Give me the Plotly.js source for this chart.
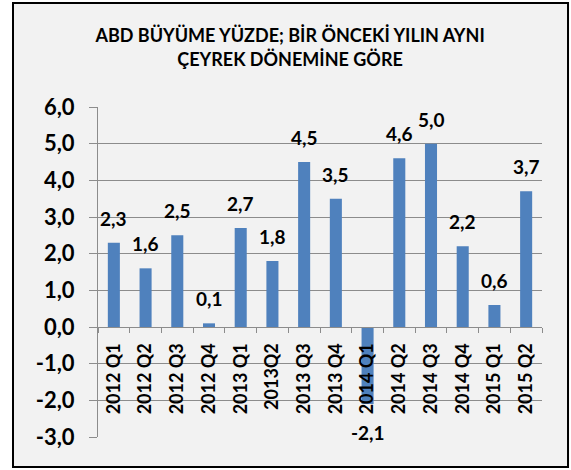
<!DOCTYPE html>
<html>
<head>
<meta charset="utf-8">
<script src="https://cdn.plot.ly/plotly-3.0.1.min.js"></script>
<style>html,body{margin:0;padding:0;background:#fff;}#chart{width:571px;height:470px;}</style>
</head>
<body>
<div id="chart"></div>
<script>
const categories = ["2012 Q1","2012 Q2","2012 Q3","2012 Q4","2013 Q1","2013Q2","2013 Q3","2013 Q4","2014 Q1","2014 Q2","2014 Q3","2014 Q4","2015 Q1","2015 Q2"];
const growth = [2.3, 1.6, 2.5, 0.1, 2.7, 1.8, 4.5, 3.5, -2.1, 4.6, 5.0, 2.2, 0.6, 3.7];
const titleLines = ["ABD BÜYÜME YÜZDE; BİR ÖNCEKİ YILIN AYNI", "ÇEYREK DÖNEMİNE GÖRE"];
const yTicks = [-3, -2, -1, 0, 1, 2, 3, 4, 5, 6];

const FONT = "Lato, 'Open Sans', sans-serif";
const GRID = "#8c8c8c";

const fmt = v => v.toFixed(1).replace(".", ",");

const labelAnnotations = categories.map((c, i) => ({
  x: c, y: growth[i], xref: "x", yref: "y",
  text: fmt(growth[i]), showarrow: false,
  yanchor: growth[i] >= 0 ? "bottom" : "top",
  yshift: growth[i] >= 0 ? 11 : -15,
  font: {family: FONT, size: 19, color: "#000", weight: "bold"}
}));

const trace = {
  type: "bar",
  x: categories,
  y: growth,
  marker: {color: "#4f81bd"},
  hoverinfo: "skip"
};

const layout = {
  width: 571, height: 470,
  margin: {l: 98, r: 29, t: 107, b: 33},
  paper_bgcolor: "#ffffff",
  plot_bgcolor: "rgba(0,0,0,0)",
  separators: ",.",
  bargap: 0.62,
  showlegend: false,
  title: {
    text: titleLines.join("<br>"),
    font: {family: FONT, size: 18, color: "#000", weight: "bold"},
    xref: "container", x: 0.508, xanchor: "center",
    yref: "container", y: 0.91, yanchor: "top"
  },
  xaxis: {
    type: "category",
    anchor: "free", position: 1/3,
    showline: true, linecolor: GRID, linewidth: 1,
    ticks: "outside", tickson: "boundaries", ticklen: 5, tickcolor: GRID,
    tickangle: -90,
    ticklabelstandoff: 8,
    showgrid: false, zeroline: false,
    tickfont: {family: FONT, size: 18, color: "#000", weight: "bold"}
  },
  yaxis: {
    range: [-3, 6],
    tickvals: yTicks,
    ticktext: yTicks.map(fmt),
    showline: true, linecolor: GRID, linewidth: 1,
    ticks: "outside", ticklen: 8, tickcolor: GRID,
    ticklabelstandoff: 10,
    showgrid: true, gridcolor: GRID, gridwidth: 1,
    zeroline: false,
    tickfont: {family: FONT, size: 22, color: "#000", weight: "bold"}
  },
  shapes: [{
    type: "rect", xref: "paper", yref: "paper", layer: "below",
    x0: -0.19144, x1: 1.0586, y0: -0.0909, y1: 1.3152,
    fillcolor: "#f2f2f2", line: {color: "#000", width: 2}
  }],
  annotations: labelAnnotations
};

Plotly.newPlot("chart", [trace], layout, {displayModeBar: false, staticPlot: true});
</script>
</body>
</html>
